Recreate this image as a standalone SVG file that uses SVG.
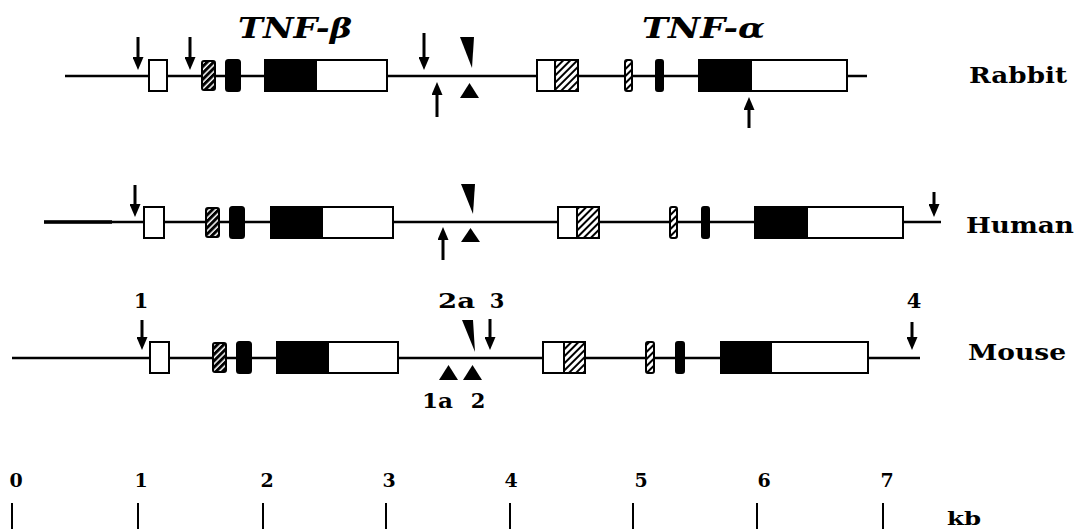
<svg xmlns="http://www.w3.org/2000/svg" width="1078" height="529" viewBox="0 0 1078 529">
  <style>
    .dna { stroke: #000; stroke-width: 2.5; fill: none; }
    .ex { stroke: #000; stroke-width: 2; }
    .wh { fill: #fff; }
    .bk { fill: #000; }
    .ht { fill: url(#hatch); }
    .hd { fill: url(#hatchDense); }
    .arr { stroke: #000; stroke-width: 3; fill: none; marker-end: url(#head); }
    .mark { fill: #000; }
    .gene { font-family: "DejaVu Serif", "Liberation Serif", serif; font-weight: bold; font-style: italic; font-size: 27px; fill: #000; }
    .lbl { font-family: "DejaVu Serif", "Liberation Serif", serif; font-weight: bold; font-size: 21px; fill: #000; }
    .sp { font-family: "DejaVu Serif", "Liberation Serif", serif; font-weight: bold; font-size: 23px; fill: #000; }
    .num { font-family: "DejaVu Serif", "Liberation Serif", serif; font-weight: bold; font-size: 19px; fill: #000; text-anchor: middle; }
    .tick { stroke: #000; stroke-width: 2; }
  </style>
  <defs>
    <pattern id="hatch" patternUnits="userSpaceOnUse" width="5" height="5" patternTransform="rotate(45)">
      <rect width="5" height="5" fill="#fff"/>
      <line x1="1" y1="0" x2="1" y2="5" stroke="#000" stroke-width="2"/>
    </pattern>
    <pattern id="hatchDense" patternUnits="userSpaceOnUse" width="4.5" height="4.5" patternTransform="rotate(45)">
      <rect width="4.5" height="4.5" fill="#fff"/>
      <line x1="1.5" y1="0" x2="1.5" y2="4.5" stroke="#000" stroke-width="3"/>
    </pattern>
    <marker id="head" viewBox="0 0 13 11" refX="6" refY="5.5" markerWidth="13" markerHeight="11" markerUnits="userSpaceOnUse" orient="auto">
      <path d="M0,0 L13,5.5 L0,11 z" fill="#000"/>
    </marker>
  </defs>

  <!-- gene names -->
  <text class="gene" x="238" y="38" textLength="114" lengthAdjust="spacingAndGlyphs">TNF-β</text>
  <text class="gene" x="642" y="38" textLength="123" lengthAdjust="spacingAndGlyphs">TNF-α</text>

  <!-- rabbit locus -->
  <g id="rabbit">
    <line class="dna" x1="65" y1="76" x2="867" y2="76"/>
    <rect class="ex wh" x="149" y="60" width="18" height="31"/>
    <rect class="ex hd" x="202" y="61" width="13" height="29" rx="2"/>
    <rect class="ex bk" x="226" y="60" width="14" height="31" rx="2.5"/>
    <rect class="ex bk" x="265" y="60" width="51" height="31"/>
    <rect class="ex wh" x="316" y="60" width="71" height="31"/>
    <rect class="ex wh" x="537" y="60" width="18" height="31"/>
    <rect class="ex ht" x="555" y="60" width="23" height="31"/>
    <rect class="ex ht" x="625" y="60" width="7" height="31" rx="2"/>
    <rect class="ex bk" x="656" y="60" width="7" height="31" rx="2"/>
    <rect class="ex bk" x="699" y="60" width="52" height="31"/>
    <rect class="ex wh" x="751" y="60" width="96" height="31"/>
    <text class="sp" x="969" y="83" textLength="98" lengthAdjust="spacingAndGlyphs">Rabbit</text>
  </g>

  <!-- human locus -->
  <g id="human">
    <line class="dna" x1="44" y1="222" x2="941" y2="222"/>
    <line x1="44" y1="222" x2="112" y2="222" stroke="#000" stroke-width="3.5"/>
    <rect class="ex wh" x="144" y="207" width="20" height="31"/>
    <rect class="ex hd" x="206" y="208" width="13" height="29" rx="2"/>
    <rect class="ex bk" x="230" y="207" width="14" height="31" rx="2.5"/>
    <rect class="ex bk" x="271" y="207" width="51" height="31"/>
    <rect class="ex wh" x="322" y="207" width="71" height="31"/>
    <rect class="ex wh" x="558" y="207" width="19" height="31"/>
    <rect class="ex ht" x="577" y="207" width="22" height="31"/>
    <rect class="ex ht" x="670" y="207" width="7" height="31" rx="2"/>
    <rect class="ex bk" x="702" y="207" width="7" height="31" rx="2"/>
    <rect class="ex bk" x="755" y="207" width="52" height="31"/>
    <rect class="ex wh" x="807" y="207" width="96" height="31"/>
    <text class="sp" x="966" y="233" textLength="108" lengthAdjust="spacingAndGlyphs">Human</text>
  </g>

  <!-- mouse locus -->
  <g id="mouse">
    <line class="dna" x1="12" y1="358" x2="920" y2="358"/>
    <rect class="ex wh" x="150" y="342" width="19" height="31"/>
    <rect class="ex hd" x="213" y="343" width="13" height="29" rx="2"/>
    <rect class="ex bk" x="237" y="342" width="14" height="31" rx="2.5"/>
    <rect class="ex bk" x="277" y="342" width="51" height="31"/>
    <rect class="ex wh" x="328" y="342" width="70" height="31"/>
    <rect class="ex wh" x="543" y="342" width="21" height="31"/>
    <rect class="ex ht" x="564" y="342" width="21" height="31"/>
    <rect class="ex ht" x="646" y="342" width="8" height="31" rx="2"/>
    <rect class="ex bk" x="676" y="342" width="8" height="31" rx="2"/>
    <rect class="ex bk" x="721" y="342" width="50" height="31"/>
    <rect class="ex wh" x="771" y="342" width="97" height="31"/>
    <text class="sp" x="968" y="360" textLength="98" lengthAdjust="spacingAndGlyphs">Mouse</text>
    <text class="lbl" x="141" y="308" text-anchor="middle">1</text>
    <text class="lbl" x="438" y="308" textLength="37" lengthAdjust="spacingAndGlyphs">2a</text>
    <text class="lbl" x="497" y="308" text-anchor="middle">3</text>
    <text class="lbl" x="914" y="308" text-anchor="middle">4</text>
    <text class="lbl" x="422" y="408" textLength="31" lengthAdjust="spacingAndGlyphs">1a</text>
    <text class="lbl" x="478" y="408" text-anchor="middle">2</text>
  </g>

  <!-- site arrows and wedges -->
  <g id="connectors">
    <!-- rabbit -->
    <line class="arr" x1="138" y1="37" x2="138" y2="63"/>
    <line class="arr" x1="190" y1="37" x2="190" y2="63"/>
    <line class="arr" x1="424" y1="33" x2="424" y2="63"/>
    <line class="arr" x1="437" y1="117" x2="437" y2="89"/>
    <line class="arr" x1="749" y1="128" x2="749" y2="104"/>
    <polygon class="mark" points="460,37 474,37 472,68"/>
    <polygon class="mark" points="460,98 479,98 469.5,83"/>
    <!-- human -->
    <line class="arr" x1="135" y1="185" x2="135" y2="210"/>
    <line class="arr" x1="934" y1="192" x2="934" y2="210"/>
    <line class="arr" x1="443" y1="260" x2="443" y2="234"/>
    <polygon class="mark" points="461,184 475,184 473,214"/>
    <polygon class="mark" points="461,242 480,242 470.5,228"/>
    <!-- mouse -->
    <line class="arr" x1="142" y1="320" x2="142" y2="343"/>
    <line class="arr" x1="490" y1="319" x2="490" y2="343"/>
    <line class="arr" x1="912" y1="322" x2="912" y2="343"/>
    <polygon class="mark" points="462,320 473,320 475,352"/>
    <polygon class="mark" points="439,380 458,380 448.5,365"/>
    <polygon class="mark" points="463,380 482,380 472.5,365"/>
  </g>

  <!-- kilobase scale -->
  <g id="scale">
    <text class="num" x="16" y="487">0</text>
    <text class="num" x="141" y="487">1</text>
    <text class="num" x="267" y="487">2</text>
    <text class="num" x="389" y="487">3</text>
    <text class="num" x="511" y="487">4</text>
    <text class="num" x="641" y="487">5</text>
    <text class="num" x="764" y="487">6</text>
    <text class="num" x="887" y="487">7</text>
    <line class="tick" x1="12" y1="503" x2="12" y2="529"/>
    <line class="tick" x1="138" y1="503" x2="138" y2="529"/>
    <line class="tick" x1="263" y1="503" x2="263" y2="529"/>
    <line class="tick" x1="386" y1="503" x2="386" y2="529"/>
    <line class="tick" x1="510" y1="503" x2="510" y2="529"/>
    <line class="tick" x1="633" y1="503" x2="633" y2="529"/>
    <line class="tick" x1="757" y1="503" x2="757" y2="529"/>
    <line class="tick" x1="883" y1="503" x2="883" y2="529"/>
    <text class="num" x="964" y="525" textLength="34" lengthAdjust="spacingAndGlyphs">kb</text>
  </g>
</svg>
